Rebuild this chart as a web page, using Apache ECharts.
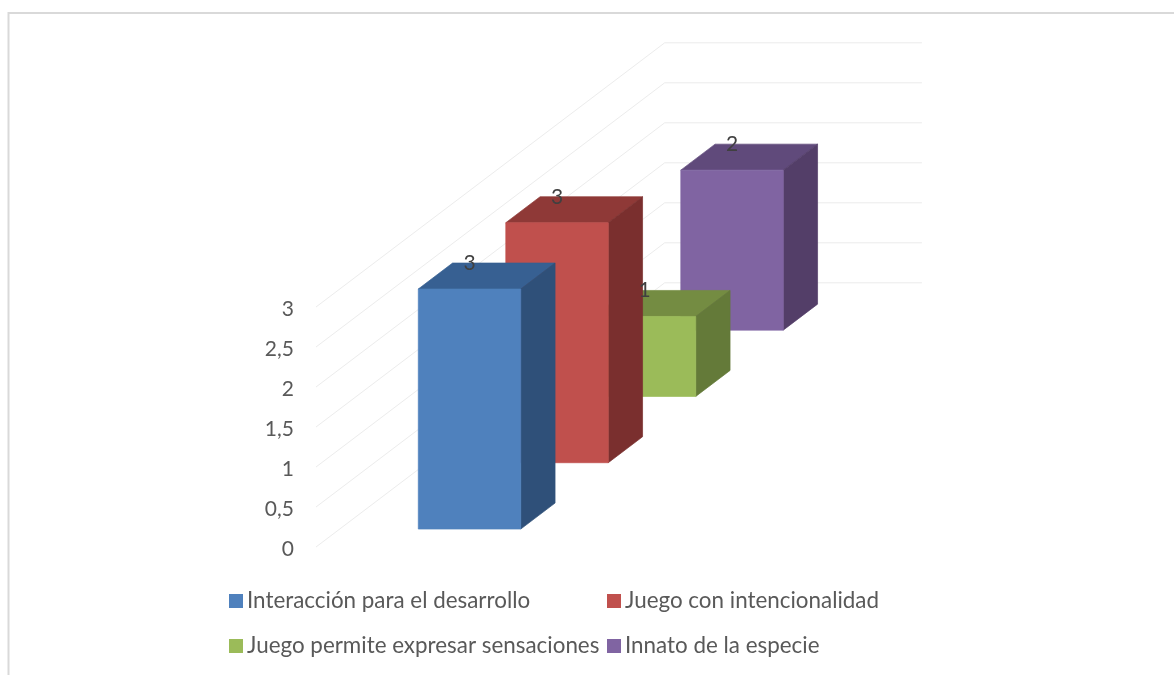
<!DOCTYPE html>
<html>
<head>
<meta charset="utf-8">
<title>Juego</title>
<script src="https://cdn.jsdelivr.net/npm/echarts@6/dist/echarts.min.js"></script>
<style>
  html, body { margin: 0; padding: 0; background: #fff; }
  #chart { width: 1174px; height: 675px; }
</style>
</head>
<body>
<div id="chart"></div>
<script>
const categories = [
  'Interacción para el desarrollo',
  'Juego con intencionalidad',
  'Juego permite expresar sensaciones',
  'Innato de la especie'
];
const values = [3, 3, 1, 2];
const yTicks = [0, 0.5, 1, 1.5, 2, 2.5, 3];
const frontColors = ['#4f81bd', '#c0504d', '#9bbb59', '#8064a2'];
const topColors = ['#376092', '#8f3937', '#748c42', '#604a7b'];
const sideColors = ['#2f5079', '#7a2f2e', '#647a39', '#533e68'];

// Oblique projection: one depth slot moves a point right by its slot width
// and up by SHEAR times that width.
const SHEAR = 0.7577;
const DEPTH_SLOTS = 4;
const WALL_DEPTH = 3.985;
const BAR_DEPTH_START = 0.271;
const BAR_DEPTH = 0.392;
const BAR_LATERAL = 0.898;
const BAR_WIDTH = 1.171;
const WALL_WIDTH = 2.94;
const FONT = 'Lato, "Open Sans", sans-serif';

function project(api, slot, lateral, value) {
  const p = api.coord([slot, value]);
  const unit = api.size([1, 0])[0];
  return [p[0] + lateral * unit, p[1] - slot * unit * SHEAR];
}

// A thin same-colour stroke closes the antialiasing seam between adjoining faces.
function face(points, color, z2) {
  return {
    type: 'polygon',
    z2,
    shape: { points },
    style: { fill: color, stroke: color, lineWidth: 0.7, lineJoin: 'round' }
  };
}

function renderBar(colorIndex) {
  return function (params, api) {
    const slot = api.value(0) + BAR_DEPTH_START;
    const back = slot + BAR_DEPTH;
    const value = api.value(1);
    const l = BAR_LATERAL;
    const r = BAR_LATERAL + BAR_WIDTH;
    const z2 = 20 - colorIndex * 4;
    return {
      type: 'group',
      children: [
        face([project(api, slot, l, 0), project(api, slot, r, 0),
              project(api, slot, r, value), project(api, slot, l, value)],
             frontColors[colorIndex], z2 + 2),
        face([project(api, slot, l, value), project(api, slot, r, value),
              project(api, back, r, value), project(api, back, l, value)],
             topColors[colorIndex], z2 + 1),
        face([project(api, slot, r, 0), project(api, back, r, 0),
              project(api, back, r, value), project(api, slot, r, value)],
             sideColors[colorIndex], z2 + 1)
      ]
    };
  };
}

// Value labels sit above all bars, over the front-face centre at the rear top edge.
function renderLabel(params, api) {
  const slot = api.value(0) + BAR_DEPTH_START;
  const value = api.value(1);
  const front = project(api, slot, BAR_LATERAL + BAR_WIDTH / 2, value);
  const rear = project(api, slot + BAR_DEPTH, 0, value);
  return {
    type: 'text',
    z2: 100,
    style: {
      x: front[0], y: rear[1], text: String(value),
      fill: '#404040', font: '21px ' + FONT, align: 'center', verticalAlign: 'middle'
    }
  };
}

// Gridlines run along the left wall, then across the back wall.
function renderWall(params, api) {
  const v = api.value(0);
  return {
    type: 'polyline',
    z2: 0,
    shape: {
      points: [project(api, 0, 0, v), project(api, WALL_DEPTH, 0, v),
               project(api, WALL_DEPTH, WALL_WIDTH, v)]
    },
    style: { fill: 'none', stroke: '#ececec', lineWidth: 1 }
  };
}

const barSeries = categories.map((name, i) => ({
  type: 'custom',
  name,
  coordinateSystem: 'cartesian2d',
  itemStyle: { color: frontColors[i] },
  encode: { x: 0, y: 1 },
  data: [[i, values[i]]],
  renderItem: renderBar(i)
}));

const legendBase = {
  orient: 'vertical',
  padding: 0,
  itemWidth: 14,
  itemHeight: 14,
  itemGap: 23,
  icon: 'rect',
  selectedMode: false,
  textStyle: { color: '#595959', fontFamily: FONT, fontSize: 22.4, padding: [0, 0, 0, -1] }
};

const chart = echarts.init(document.getElementById('chart'), null, { renderer: 'canvas' });
chart.setOption({
  animation: false,
  backgroundColor: '#ffffff',
  grid: { left: 316, top: 307, width: 350, height: 240 },
  xAxis: { type: 'value', min: 0, max: DEPTH_SLOTS, show: false },
  yAxis: {
    type: 'value',
    min: 0,
    max: 3,
    interval: 0.5,
    axisLine: { show: false },
    axisTick: { show: false },
    splitLine: { show: false },
    axisLabel: {
      margin: 22,
      color: '#595959',
      fontFamily: FONT,
      fontSize: 21,
      verticalAlign: 'top',
      lineHeight: 4,
      formatter: (v) => String(v).replace('.', ',')
    }
  },
  legend: [
    Object.assign({}, legendBase, { left: 229, top: 590, data: [categories[0], categories[2]] }),
    Object.assign({}, legendBase, { left: 607, top: 590, data: [categories[1], categories[3]] })
  ],
  graphic: [
    {
      type: 'polyline',
      silent: true,
      shape: { points: [[8.5, 675], [8.5, 13], [1174, 13]] },
      style: { fill: 'none', stroke: '#d9d9d9', lineWidth: 2 }
    }
  ],
  series: [
    {
      type: 'custom',
      name: 'walls',
      coordinateSystem: 'cartesian2d',
      encode: { y: 0 },
      data: yTicks.map((t) => [t]),
      renderItem: renderWall
    },
    ...barSeries,
    {
      type: 'custom',
      name: 'labels',
      coordinateSystem: 'cartesian2d',
      encode: { x: 0, y: 1 },
      data: values.map((v, i) => [i, v]),
      renderItem: renderLabel
    }
  ]
});
</script>
</body>
</html>
